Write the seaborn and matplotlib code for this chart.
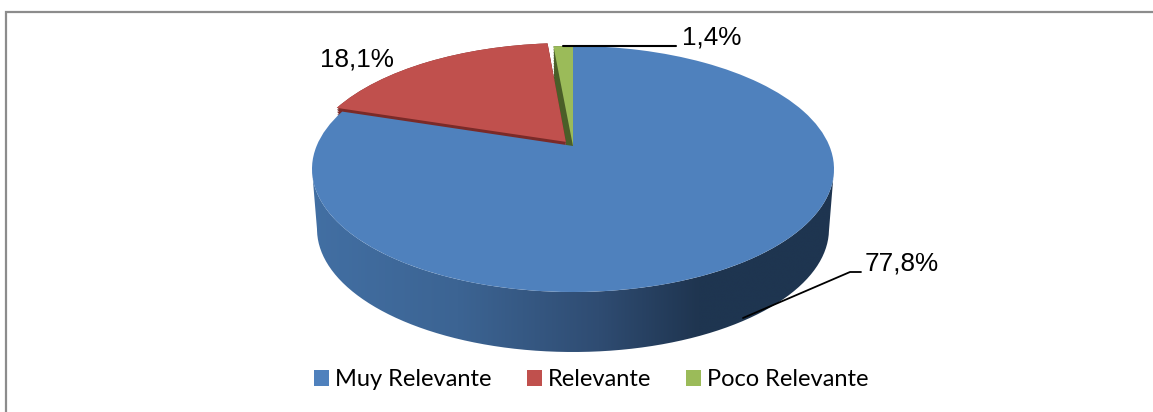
import numpy as np
import seaborn as sns
import matplotlib
matplotlib.use("Agg")
import matplotlib.pyplot as plt
from matplotlib.path import Path
from matplotlib.patches import PathPatch
from matplotlib.transforms import Transform
from matplotlib.colors import LinearSegmentedColormap

categories = ["Muy Relevante", "Relevante", "Poco Relevante"]
values = [77.8, 18.1, 1.4]
value_labels = ["77,8%", "18,1%", "1,4%"]
top_colors = ["#4F81BD", "#C0504D", "#9BBB59"]
side_colors = ["#2F4B70", "#7A2A28", "#4A5E28"]

sns.set_theme(style="white")
plt.rcParams["font.family"] = ["Liberation Sans", "DejaVu Sans"]

W, H = 1153, 412
fig = plt.figure(figsize=(W / 100, H / 100), dpi=100, facecolor="white")
ax = fig.add_axes([0, 0, 1, 1])


class Disc(Transform):
    """Perspective view of the unit pie, depth 0 = top face, 1 = bottom face."""
    input_dims = output_dims = 2
    is_separable = False

    def __init__(self, depth=0.0):
        super().__init__()
        self.cx = 573.0
        self.k = 0.187
        semi_w = 261.0 + (256.0 - 261.0) * depth
        self.A = semi_w * np.sqrt(1 - self.k ** 2)
        self.B = 118.7
        self.cy = 146.0 + 60.0 * depth

    def transform_non_affine(self, xy):
        xy = np.asarray(xy, float)
        d = 1 + self.k * xy[:, 1]
        return np.column_stack([self.cx + self.A * xy[:, 0] / d,
                                self.cy - self.B * xy[:, 1] / d])


def draw_pie(depth, colors, keep, z):
    wedges, _ = ax.pie(values, colors=colors, startangle=90, counterclock=False,
                       explode=[0, 0.045, 0], frame=True, radius=1,
                       wedgeprops=dict(linewidth=0))
    for i, w in enumerate(wedges):
        if i in keep:
            w.set_transform(Disc(depth) + ax.transData)
            w.set_zorder(z[i])
        else:
            w.remove()
    return wedges


# side faces of the two small slices, behind everything
for d in np.linspace(0, 0.25, 10):
    draw_pie(d, side_colors, keep=(1,), z={1: 2})
for d in np.linspace(0, 0.6, 14):
    draw_pie(d, side_colors, keep=(2,), z={2: 1})

# front wall of the large slice, from one silhouette tangent to the other
thetas = np.radians(np.linspace(190.8, 349.2, 240))
circle = np.column_stack([np.cos(thetas), np.sin(thetas)])
upper = Disc(0).transform_non_affine(circle)
lower = Disc(1).transform_non_affine(circle)
wall = np.vstack([upper, lower[::-1], upper[:1]])
wall_patch = PathPatch(Path(wall), facecolor="none", edgecolor="none",
                       transform=ax.transData)
ax.add_patch(wall_patch)
shade = LinearSegmentedColormap.from_list(
    "wall", [(0, "#426FA3"), (0.28, "#3C6493"), (0.55, "#2F4C72"),
             (0.74, "#1F3550"), (1, "#1E3550")], N=1024)
im = ax.imshow(np.linspace(0, 1, 1024)[None, :], cmap=shade, aspect="auto",
               extent=(312, 834, 352, 100), zorder=3, interpolation="bilinear")
im.set_clip_path(wall_patch)

# top faces
wedges = draw_pie(0, top_colors, keep=(0, 1, 2), z={0: 5, 1: 4, 2: 4})

ax.set_xlim(0, W)
ax.set_ylim(H, 0)
ax.set_aspect("auto")
ax.set_frame_on(False)
ax.set_xticks([])
ax.set_yticks([])

# chart border: the top and left edges run off the picture
ax.plot([6, 6, W], [H, 12, 12], color="#8C8C8C", lw=1.6, zorder=1,
        solid_joinstyle="miter")

# leaders and labels
ax.plot([563, 676], [46, 46], color="black", lw=1.5, zorder=7)
ax.plot([743, 850, 861], [318, 272, 272], color="black", lw=1.3, zorder=7)
label_pos = [(865, 264), (320, 59), (682, 37)]
for lab, (x, y) in zip(value_labels, label_pos):
    ax.text(x, y, lab, fontsize=18.8, color="black", ha="left", va="center", zorder=8)

leg = ax.legend(wedges, categories, ncol=3, loc="center left",
                bbox_to_anchor=(300 / W, 1 - 380 / H), frameon=False,
                prop=dict(family="Lato", size=17),
                handlelength=0.64, handleheight=0.64, handletextpad=0.25,
                columnspacing=1.48, borderpad=0, borderaxespad=0.6)
for t in leg.get_texts():
    t.set_color("black")

fig.savefig("out.png", dpi=100, facecolor="white")
